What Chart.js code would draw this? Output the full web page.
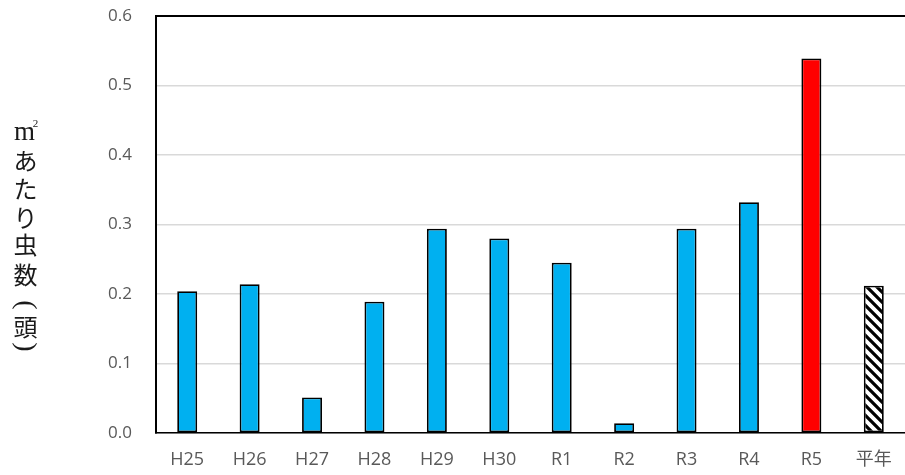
<!DOCTYPE html>
<html>
<head>
<meta charset="utf-8">
<script src="https://cdn.jsdelivr.net/npm/chart.js@4/dist/chart.umd.min.js"></script>
<style>
  html, body { margin: 0; padding: 0; background: #fff; }
  #wrap { width: 905px; height: 475px; }
</style>
</head>
<body>
<div id="wrap"><canvas id="c" width="905" height="475"></canvas></div>
<script>
// Years surveyed and the average number of insects per square metre
const categories = ['H25', 'H26', 'H27', 'H28', 'H29', 'H30', 'R1', 'R2', 'R3', 'R4', 'R5', '平年'];
const insectsPerM2 = [0.204, 0.214, 0.051, 0.189, 0.294, 0.280, 0.245, 0.014, 0.294, 0.332, 0.539, 0.212];
const yTicks = [0, 0.1, 0.2, 0.3, 0.4, 0.5, 0.6];

// Diagonal stripe fill for the normal-year bar
function makeHatch() {
  const size = 10;
  const p = document.createElement('canvas');
  p.width = size; p.height = size;
  const g = p.getContext('2d');
  g.fillStyle = '#fff';
  g.fillRect(0, 0, size, size);
  g.strokeStyle = '#000';
  g.lineWidth = 3.2;
  g.beginPath();
  g.moveTo(-size, -size); g.lineTo(size * 2, size * 2);
  g.moveTo(-size * 2, -size); g.lineTo(size, size * 2);
  g.moveTo(0, -size); g.lineTo(size * 3, size * 2);
  g.stroke();
  return g.createPattern(p, 'repeat');
}

const ctx = document.getElementById('c').getContext('2d');
const hatch = makeHatch();
const fills = categories.map(c => {
  if (c === '平年') return hatch;
  if (c === 'R5') return '#FF0000';
  return '#00B0F0';
});

// Vertical axis title drawn one glyph at a time, top to bottom
const verticalTitle = {
  id: 'verticalTitle',
  afterDraw(chart) {
    const g = chart.ctx;
    const x = 25.5;
    g.save();
    g.fillStyle = '#1a1a1a';
    g.textAlign = 'center';
    g.textBaseline = 'middle';
    // square metre symbol
    g.font = '27px "Liberation Serif", serif';
    g.fillText('m', x - 1, 133);
    g.font = '11px "Liberation Serif", serif';
    g.fillText('2', x + 10, 124);
    g.font = '24px "Noto Sans CJK JP", sans-serif';
    [['あ', 161], ['た', 189], ['り', 217.5], ['虫', 245], ['数', 275], ['頭', 326.5]]
      .forEach(([ch, y]) => g.fillText(ch, x, y));
    // parentheses turned a quarter for vertical writing
    const rot = (ch, y) => {
      g.save();
      g.translate(x, y);
      g.rotate(Math.PI / 2);
      g.font = '28px "Liberation Serif", serif';
      g.fillText(ch, 0, 0);
      g.restore();
    };
    rot('(', 305);
    rot(')', 347);
    g.restore();
  }
};

new Chart(ctx, {
  type: 'bar',
  data: {
    labels: categories,
    datasets: [{
      data: insectsPerM2,
      backgroundColor: fills,
      borderColor: '#000',
      borderWidth: 1.8,
      borderSkipped: false,
      categoryPercentage: 1.0,
      barPercentage: 0.32
    }]
  },
  options: {
    responsive: false,
    animation: false,
    devicePixelRatio: 1,
    layout: { padding: { top: 16, right: 0, left: 0, bottom: 0 } },
    plugins: {
      legend: { display: false },
      tooltip: { enabled: false },
      title: { display: false }
    },
    scales: {
      x: {
        grid: { display: false, drawTicks: false },
        border: { display: true, color: '#000', width: 1.6 },
        ticks: {
          color: '#595959',
          padding: 16,
          font: { family: '"Open Sans", "Noto Sans CJK JP", sans-serif', size: 18 }
        },
        afterFit(scale) {
          scale.height = 42;
          scale.paddingLeft = 0; scale.paddingRight = 0;
        }
      },
      y: {
        min: 0,
        max: 0.6,
        afterBuildTicks(scale) { scale.ticks = yTicks.map(v => ({ value: v })); },
        grid: {
          drawTicks: false,
          color: c => (c.tick && Math.abs(c.tick.value - 0.6) < 1e-9) ? '#000' : '#d9d9d9',
          lineWidth: c => (c.tick && Math.abs(c.tick.value - 0.6) < 1e-9) ? 2 : 1.5
        },
        border: { display: true, color: '#000', width: 2 },
        ticks: {
          color: '#595959',
          padding: 24,
          font: { family: '"Open Sans", sans-serif', size: 17 },
          callback: v => Number(v).toFixed(1)
        },
        afterFit(scale) {
          scale.width = 156;
          scale.paddingTop = 0; scale.paddingBottom = 0;
        }
      }
    }
  },
  plugins: [verticalTitle]
});
</script>
</body>
</html>
